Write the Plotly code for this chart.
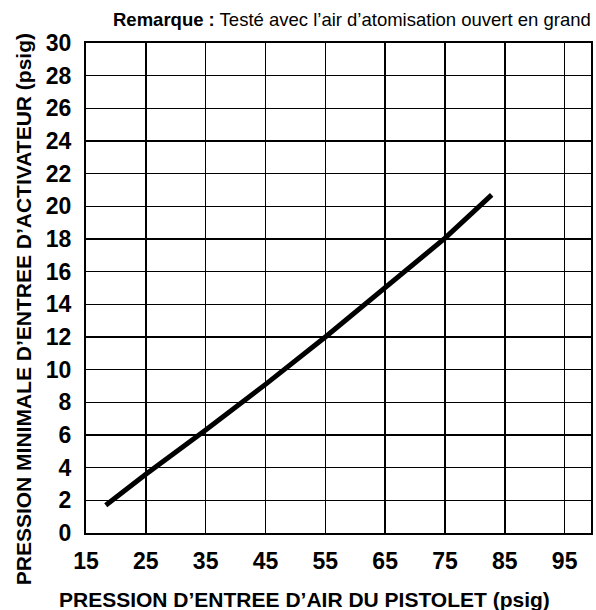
import plotly.graph_objects as go

# Data
gun_air_pressure = [18.3, 25, 35, 45, 55, 65, 75, 82.8]
min_actuator_pressure = [1.7, 3.6, 6.3, 9.1, 12.0, 15.0, 18.05, 20.7]
x_ticks = [15, 25, 35, 45, 55, 65, 75, 85, 95]
y_ticks = [0, 2, 4, 6, 8, 10, 12, 14, 16, 18, 20, 22, 24, 26, 28, 30]

W, H = 596, 610
L, R, T, B = 86, 3, 43, 77
PW, PH = W - L - R, H - T - B

def px_x(px):
    return (px - L) / PW

def px_y(py):
    return (H - B - py) / PH

FONT = "Liberation Sans, Arial, Helvetica, sans-serif"

fig = go.Figure()
fig.add_trace(go.Scatter(
    x=gun_air_pressure, y=min_actuator_pressure,
    mode="lines", line=dict(color="black", width=5),
    showlegend=False, hoverinfo="skip",
))

fig.update_layout(
    width=W, height=H,
    margin=dict(l=L, r=R, t=T, b=B, pad=0),
    paper_bgcolor="white", plot_bgcolor="white",
    font=dict(family=FONT, color="black"),
    xaxis=dict(
        range=[15, 99.4], tickmode="array", tickvals=x_ticks,
        ticktext=[str(v) for v in x_ticks],
        showgrid=True, gridcolor="black", gridwidth=1.5,
        showline=True, linecolor="black", linewidth=2, mirror=True,
        zeroline=False, ticks="", ticklabelstandoff=6,
        tickfont=dict(family=FONT, size=23, color="black", weight="bold"),
    ),
    yaxis=dict(
        range=[0, 30], tickmode="array", tickvals=y_ticks,
        ticktext=[str(v) for v in y_ticks],
        showgrid=True, gridcolor="black", gridwidth=1.5,
        showline=True, linecolor="black", linewidth=2, mirror=True,
        zeroline=False, ticks="", ticklabelstandoff=8,
        tickfont=dict(family=FONT, size=23, color="black", weight="bold"),
    ),
    annotations=[
        dict(
            text="<b>Remarque :</b> Testé avec l’air d’atomisation ouvert en grand",
            xref="paper", yref="paper", x=px_x(595), y=px_y(19),
            xanchor="right", yanchor="middle", showarrow=False,
            font=dict(family=FONT, size=18.5, color="black"),
        ),
        dict(
            text="<b>PRESSION D’ENTREE D’AIR DU PISTOLET (psig)</b>",
            xref="paper", yref="paper", x=px_x(305), y=px_y(599),
            xanchor="center", yanchor="middle", showarrow=False,
            font=dict(family=FONT, size=21, color="black"),
        ),
        dict(
            text="<b>PRESSION MINIMALE D’ENTREE D’ACTIVATEUR (psig)</b>",
            xref="paper", yref="paper", x=px_x(23), y=px_y(309),
            xanchor="center", yanchor="middle", showarrow=False, textangle=-90,
            font=dict(family=FONT, size=21, color="black"),
        ),
    ],
)

fig.write_html(
    "out.html",
    config={"displayModeBar": False, "staticPlot": True},
    post_script="document.body.style.margin='0';document.body.style.padding='0';",
)
